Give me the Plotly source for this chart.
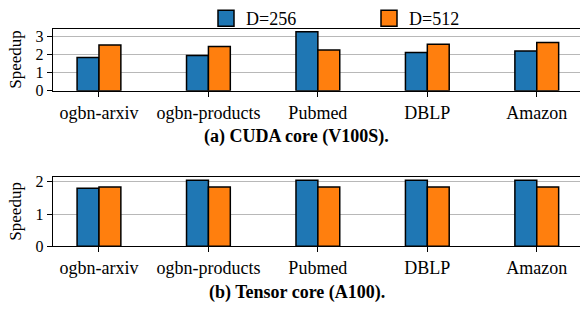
import plotly.graph_objects as go

categories = ["ogbn-arxiv", "ogbn-products", "Pubmed", "DBLP", "Amazon"]
series_names = ["D=256", "D=512"]
cuda_d256 = [1.83, 1.95, 3.26, 2.11, 2.19]
cuda_d512 = [2.53, 2.44, 2.25, 2.57, 2.66]
tensor_d256 = [1.80, 2.05, 2.05, 2.05, 2.05]
tensor_d512 = [1.84, 1.84, 1.84, 1.84, 1.84]
y_ticks_top = [0, 1, 2, 3]
y_ticks_bottom = [0, 1, 2]
captions = ["<b>(a) CUDA core (V100S).</b>", "<b>(b) Tensor core (A100).</b>"]

colors = ["#1f77b4", "#ff7f0e"]
FONT = "Liberation Serif"
W, H = 580, 313

fig = go.Figure()
for vals, name, col in zip([cuda_d256, cuda_d512], series_names, colors):
    fig.add_trace(go.Bar(x=categories, y=vals, name=name, marker_color=col,
                         marker_line_color="black", marker_line_width=1.5,
                         xaxis="x", yaxis="y", showlegend=False))
for vals, name, col in zip([tensor_d256, tensor_d512], series_names, colors):
    fig.add_trace(go.Bar(x=categories, y=vals, name=name, marker_color=col,
                         marker_line_color="black", marker_line_width=1.5,
                         xaxis="x2", yaxis="y2", showlegend=False))
# legend entries (larger square patches, like the reference)
for name, col in zip(series_names, colors):
    fig.add_trace(go.Scatter(x=[None], y=[None], mode="markers", name=name,
                             marker=dict(symbol="square", size=16, color=col,
                                         line=dict(color="black", width=1.5)),
                             xaxis="x", yaxis="y", hoverinfo="skip"))

x0 = 53 / W
top_dom = [1 - 89 / H, 1 - 24 / H]
bot_dom = [1 - 252.3 / H, 1 - 179.3 / H]

xcommon = dict(type="category", range=[-0.42, 4.395], showline=True, linecolor="black",
               linewidth=1.2, mirror=True, ticks="outside", ticklen=5, tickcolor="black",
               showgrid=False, tickfont=dict(family=FONT, size=18, color="black"))
ycommon = dict(showline=True, linecolor="black", linewidth=1.2, ticks="outside", ticklen=5,
               tickcolor="black", showgrid=True, gridcolor="#b8b8b8", gridwidth=1,
               zeroline=False, tickfont=dict(family=FONT, size=16, color="black"))

fig.update_layout(
    width=W, height=H, margin=dict(l=0, r=0, t=0, b=0),
    paper_bgcolor="white", plot_bgcolor="white",
    barmode="group", bargap=0.6, bargroupgap=0,
    xaxis=dict(domain=[x0, 1], anchor="y", categoryorder="array", categoryarray=categories, **xcommon),
    yaxis=dict(domain=top_dom, anchor="x", range=[0, 3.42], tickvals=y_ticks_top, **ycommon),
    xaxis2=dict(domain=[x0, 1], anchor="y2", **xcommon),
    yaxis2=dict(domain=bot_dom, anchor="x2", range=[0, 2.16], tickvals=y_ticks_bottom, **ycommon),
    legend=dict(orientation="h", x=206 / W, xanchor="left", y=1 - 13 / H, yanchor="middle",
                font=dict(family=FONT, size=18, color="black"), bgcolor="rgba(0,0,0,0)",
                entrywidth=118, entrywidthmode="pixels", itemwidth=30, tracegroupgap=0,
                itemsizing="trace"),
    font=dict(family=FONT, color="black"),
)

for txt, yc in zip(captions, [137.5, 300.5]):
    fig.add_annotation(text=txt, x=296.7 / W, y=1 - yc / H, xref="paper", yref="paper",
                       showarrow=False, font=dict(family=FONT, size=18, color="black"),
                       xanchor="center", yanchor="middle")
for yc in [56.5, 216]:
    fig.add_annotation(text="Speedup", x=16 / W, y=1 - yc / H, xref="paper", yref="paper",
                       showarrow=False, textangle=-90, font=dict(family=FONT, size=17, color="black"),
                       xanchor="center", yanchor="middle")

fig.write_html("out.html", config={"displayModeBar": False, "staticPlot": True},
               post_script="document.body.style.margin='0px';document.body.style.overflow='hidden';")
